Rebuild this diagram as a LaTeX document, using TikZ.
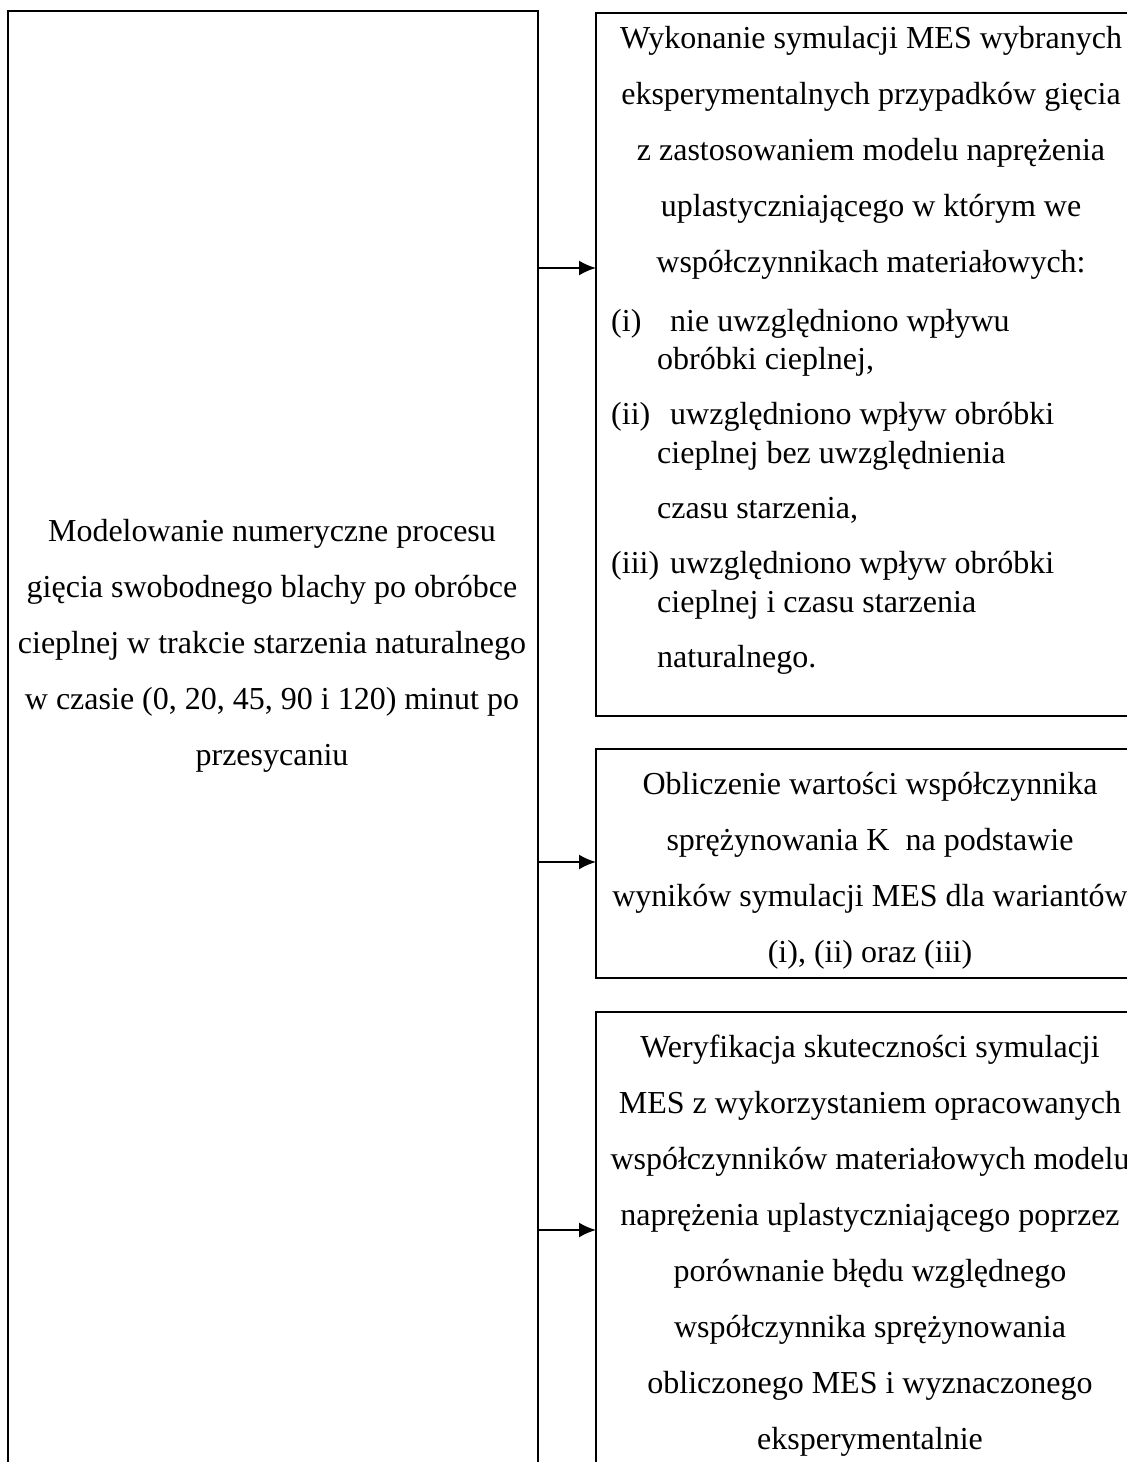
\documentclass[tikz,border=0pt]{standalone}
\usepackage{fontspec}
\setmainfont{Liberation Serif}
\usetikzlibrary{arrows.meta}
\begin{document}
\begin{tikzpicture}[x=1pt,y=-1pt,
  frame/.style={draw=black,line width=2pt,inner sep=0pt,outer sep=0pt,anchor=north west},
  txt/.style={font=\fontsize{32}{56}\selectfont,align=center,inner sep=0pt},
  ln/.style={font=\fontsize{32}{38}\selectfont,inner sep=0pt,anchor=base west},
  conn/.style={line width=2pt,-{Latex[length=17pt,width=15pt]}}]
\useasboundingbox (0,0) rectangle (1127,1462);
\begin{scope}
\clip (0,0) rectangle (1127,1462);
\node[frame,minimum width=530pt,minimum height=1480pt] (L) at (8,11) {};
\node[frame,minimum width=560pt,minimum height=703pt] (B1) at (596,13) {};
\node[frame,minimum width=560pt,minimum height=229pt] (B2) at (596,749) {};
\node[frame,minimum width=560pt,minimum height=480pt] (B3) at (596,1012) {};
\end{scope}
% left text
\node[txt] (Lt) at (272,646) {Modelowanie numeryczne procesu\\gięcia swobodnego blachy po obróbce\\cieplnej w trakcie starzenia naturalnego\\w czasie (0, 20, 45, 90 i 120) minut po\\przesycaniu};
% box 1
\node[txt] (B1t) at (871,153) {Wykonanie symulacji MES wybranych\\eksperymentalnych przypadków gięcia\\z zastosowaniem modelu naprężenia\\uplastyczniającego w którym we\\współczynnikach materiałowych:};
\node[ln] (i1) at (611,331) {(i)};
\node[ln] (i2) at (670,331) {nie uwzględniono wpływu};
\node[ln] (i3) at (657,369) {obróbki cieplnej,};
\node[ln] (ii1) at (611,424) {(ii)};
\node[ln] (ii2) at (670,424) {uwzględniono wpływ obróbki};
\node[ln] (ii3) at (657,463) {cieplnej bez uwzględnienia};
\node[ln] (ii4) at (657,518) {czasu starzenia,};
\node[ln] (iii1) at (611,573) {(iii)};
\node[ln] (iii2) at (670,573) {uwzględniono wpływ obróbki};
\node[ln] (iii3) at (657,612) {cieplnej i czasu starzenia};
\node[ln] (iii4) at (657,667) {naturalnego.};
% box 2
\node[txt] (B2t) at (870,871) {Obliczenie wartości współczynnika\\sprężynowania K~ na podstawie\\wyników symulacji MES dla wariantów\\(i), (ii) oraz (iii)};
% box 3
\node[txt] (B3t) at (870,1246) {Weryfikacja skuteczności symulacji\\MES z wykorzystaniem opracowanych\\współczynników materiałowych modelu\\naprężenia uplastyczniającego poprzez\\porównanie błędu względnego\\współczynnika sprężynowania\\obliczonego MES i wyznaczonego\\eksperymentalnie};
% connectors
\draw[conn] (L.east |- 0,268) -- (B1.west |- 0,268);
\draw[conn] (L.east |- 0,862) -- (B2.west |- 0,862);
\draw[conn] (L.east |- 0,1230) -- (B3.west |- 0,1230);
\end{tikzpicture}
\end{document}
